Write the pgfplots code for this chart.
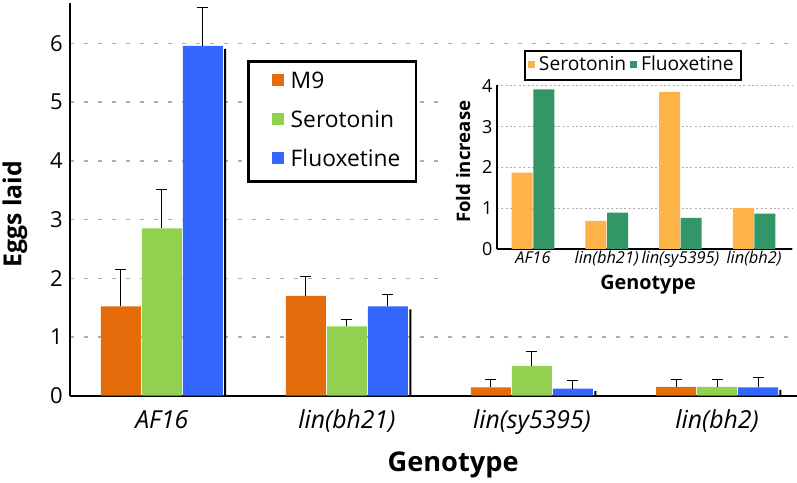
\documentclass[border=0pt]{standalone}
\usepackage{pgfplots}
\usepackage{pgfplotstable}
\pgfplotsset{compat=1.18}
\usepackage{fontspec}
\setmainfont{Open Sans}
\definecolor{cM}{RGB}{228,108,10}
\definecolor{cS}{RGB}{146,208,80}
\definecolor{cF}{RGB}{51,102,255}
\definecolor{iS}{RGB}{255,178,71}
\definecolor{iF}{RGB}{51,150,102}
\definecolor{gridc}{RGB}{175,175,175}
\pgfplotstableread{
x m9 m9e ser sere flu flue flush
0 1.52 0.63 2.85 0.67 5.96 0.66 5.91
1 1.70 0.33 1.18 0.12 1.52 0.21 1.47
2 0.14 0.14 0.51 0.25 0.12 0.14 0.08
3 0.15 0.13 0.15 0.13 0.14 0.17 0.10
}\maindata
\pgfplotstableread{
x ser flu
0 1.87 3.91
1 0.69 0.89
2 3.85 0.76
3 1.00 0.87
}\insetdata
\begin{document}
\begin{tikzpicture}
\useasboundingbox (-35pt,-43.15pt) rectangle (363.5pt,197.85pt);
\begin{axis}[
  at={(0pt,0pt)}, anchor=south west,
  scale only axis, width=363.5pt, height=196.35pt,
  xmin=-0.496, xmax=3.432, ymin=0, ymax=6.69,
  ybar=0.5pt, bar width=20pt,
  axis x line*=bottom, axis y line*=left,
  axis line style={line width=0.9pt,-},
  xtick={0,1,2,3}, xticklabels={AF16,lin(bh21),lin(sy5395),lin(bh2)},
  ytick={0,1,2,3,4,5,6},
  major tick length=0pt,
  ymajorgrids, grid style={gridc, line width=0.7pt, dash pattern=on 2pt off 5pt},
  /pgf/number format/assume math mode=true,
  yticklabel style={font=\fontsize{11}{13}\selectfont, anchor=east, inner sep=0pt, xshift=-3.5pt},
  xticklabel style={font=\fontsize{12.4}{15}\selectfont\itshape, anchor=center, text height=9pt, text depth=3pt, inner sep=0pt, yshift=-13.5pt},
  xlabel={Genotype},
  xlabel style={font=\bfseries\fontsize{13.6}{16}\selectfont, at={(axis description cs:0.527,-0.1757)}, anchor=center},
  ylabel={Eggs laid},
  ylabel style={inner sep=0pt, font=\bfseries\fontsize{12.4}{14}\selectfont, at={(axis description cs:-0.0757,0.462)}, anchor=center},
  legend style={at={(axis description cs:0.2435,0.855)}, anchor=north west,
    draw=black, line width=1.3pt, inner xsep=4.5pt, inner ysep=4.9pt,
    font=\fontsize{11.4}{14}\selectfont, row sep=8.6pt,
    nodes={text height=8.5pt, text depth=2.5pt, inner ysep=0pt, inner xsep=3.2pt}},
  legend cell align=left,
  legend image code/.code={\path (0pt,0pt); \fill[#1] (7.5pt,-2pt) rectangle (13.5pt,4pt);},
  error bars/error bar style={black, line width=0.5pt},
  error bars/error mark options={black, line width=0.5pt, mark size=2.75pt, rotate=90},
]
\addplot[fill=cM, draw=none, bar shift=-20.5pt, error bars/.cd, y dir=plus, y explicit]
  table[x=x, y=m9, y error=m9e] {\maindata};
\addlegendentry{M9}
\addplot[fill=cS, draw=none, bar shift=0pt, error bars/.cd, y dir=plus, y explicit]
  table[x=x, y=ser, y error=sere] {\maindata};
\addlegendentry{Serotonin}
\addplot[fill=cF, draw=none, bar shift=20.5pt, error bars/.cd, y dir=plus, y explicit]
  table[x=x, y=flu, y error=flue] {\maindata};
\addlegendentry{Fluoxetine}
\addplot[fill=black, draw=none, bar width=1pt, bar shift=31.7pt, forget plot]
  table[x=x, y=flush] {\maindata};
\end{axis}
\fill[white] (187.5pt,50.35pt) rectangle (363.5pt,173.85pt);
\begin{axis}[
  at={(213.35pt,73.35pt)}, anchor=south west,
  scale only axis, width=147.5pt, height=82pt,
  xmin=-0.4925, xmax=3.51, ymin=0, ymax=4.02,
  ybar=0.3pt, bar width=10.5pt,
  axis x line*=bottom, axis y line*=left,
  axis line style={line width=0.8pt,-},
  xtick={0,1,2,3}, xticklabels={AF16,lin(bh21),lin(sy5395),lin(bh2)},
  ytick={0,1,2,3,4},
  major tick length=0pt,
  ymajorgrids, grid style={gridc, line width=0.6pt, dash pattern=on 1pt off 1.2pt},
  /pgf/number format/assume math mode=true,
  yticklabel style={font=\fontsize{9}{11}\selectfont, anchor=east, inner sep=0pt, xshift=-2pt},
  xticklabel style={font=\fontsize{8.2}{10}\selectfont\itshape, anchor=center, text height=6pt, text depth=2pt, inner sep=0pt, yshift=-5.5pt},
  xlabel={Genotype},
  xlabel style={font=\bfseries\fontsize{9.9}{12}\selectfont, at={(axis description cs:0.513,-0.2195)}, anchor=center},
  ylabel={Fold increase},
  ylabel style={inner sep=0pt, font=\bfseries\fontsize{9.3}{11}\selectfont, at={(axis description cs:-0.114,0.532)}, anchor=center},
  legend style={at={(axis description cs:0.0925,1.213)}, anchor=north west,
    draw=black, line width=1pt, inner xsep=1.5pt, inner ysep=2.2pt,
    font=\fontsize{9.6}{11}\selectfont,
    nodes={text height=7pt, text depth=2pt, inner ysep=0.5pt, inner xsep=2pt}},
  legend columns=-1,
  legend image code/.code={\fill[#1] (0pt,-1.5pt) rectangle (3.5pt,2pt);},
]
\addplot[fill=iS, draw=none] table[x=x, y=ser] {\insetdata};
\addlegendentry{Serotonin}
\addplot[fill=iF, draw=none] table[x=x, y=flu] {\insetdata};
\addlegendentry{Fluoxetine}
\end{axis}
\end{tikzpicture}
\end{document}
